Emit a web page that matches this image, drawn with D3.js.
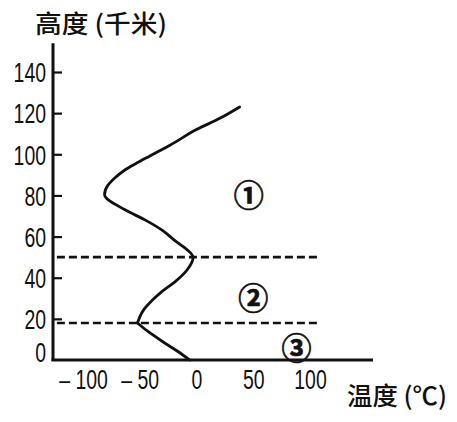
<!DOCTYPE html>
<html><head><meta charset="utf-8">
<script src="https://cdn.jsdelivr.net/npm/d3@7/dist/d3.min.js"></script>
<style>
html,body{margin:0;padding:0;background:#fff;}
svg{display:block;}
</style></head>
<body>
<svg id="chart" width="457" height="422"></svg>
<script>
// ---- data ----
const curveTemp   = [-6, -16, -30, -43, -52, -47, -39, -30, -19, -8, -3, -8, -19, -30, -45, -63, -81, -78, -72, -64, -54, -41, -23, 0, 21, 38];
const curveHeight = [0, 4, 9, 14, 18, 24, 29, 33.5, 38, 44, 50, 53.5, 58, 63, 68, 73, 80.5, 85, 88.5, 92, 95.3, 99.2, 104.5, 112, 117.6, 123];
const boundaryHeights = [50, 18];
const boundaryTempExtent = [-123, 107];
const layerLabels = ["①", "②", "③"];
const layerLabelTemp = [46, 50, 88];
const layerLabelHeight = [81, 31, 7];
const xTicks = [-100, -50, 0, 50, 100];
const yTicks = [0, 20, 40, 60, 80, 100, 120, 140];
const yTitle = "高度 (千米)";
const xTitle = "温度 (℃)";

// ---- layout ----
const svg = d3.select("#chart");
const x = d3.scaleLinear().domain([-100, 100]).range([83, 310]);
const y = d3.scaleLinear().domain([0, 140]).range([360, 72]);
const axisX = 53;        // pixel x of vertical axis
const axisTopVal = 154;  // vertical axis extends to this height
const axisRightPx = 373;
const ink = "#111";
const numFont = "'Liberation Sans', Arial, sans-serif";
const cjkFont = "'Noto Sans CJK SC', sans-serif";
const sx = 0.72;         // horizontal squeeze of the digits

// vertical axis
const yAxis = d3.axisLeft(y).tickValues(yTicks).tickSizeInner(-9).tickSizeOuter(0).tickPadding(7);
const gy = svg.append("g").attr("transform", `translate(${axisX},0)`).call(yAxis);
gy.select(".domain").remove();
gy.selectAll(".tick line").attr("stroke", ink).attr("stroke-width", 2.2);
gy.selectAll(".tick text").attr("fill", ink).attr("font-family", numFont).attr("font-size", 27)
  .attr("dy", "0.36em")
  .attr("x", -7 / sx).attr("transform", `scale(${sx},1)`);
gy.selectAll(".tick").filter(d => d === 0).select("line").remove();
gy.selectAll(".tick").filter(d => d === 0).select("text").attr("y", -8);

svg.append("line").attr("x1", axisX).attr("x2", axisX)
  .attr("y1", y(axisTopVal)).attr("y2", y(0) + 1)
  .attr("stroke", ink).attr("stroke-width", 3);

// horizontal axis
svg.append("line").attr("x1", axisX - 1.5).attr("x2", axisRightPx)
  .attr("y1", y(0)).attr("y2", y(0))
  .attr("stroke", ink).attr("stroke-width", 3);
const xAxis = d3.axisBottom(x).tickValues(xTicks).tickSize(0).tickPadding(10)
  .tickFormat(d => d < 0 ? "– " + Math.abs(d) : String(d));
const gx = svg.append("g").attr("transform", `translate(0,${y(0)})`).call(xAxis);
gx.select(".domain").remove();
gx.selectAll(".tick text").attr("fill", ink).attr("font-family", numFont).attr("font-size", 27)
  .attr("dy", "0.72em").attr("transform", `scale(${sx},1)`);

// boundary dashed lines
svg.selectAll(".bound").data(boundaryHeights).enter().append("line")
  .attr("class", "bound")
  .attr("x1", x(boundaryTempExtent[0])).attr("x2", x(boundaryTempExtent[1]))
  .attr("y1", d => y(d)).attr("y2", d => y(d))
  .attr("stroke", ink).attr("stroke-width", 2.6).attr("stroke-dasharray", "8,4");

// temperature curve: smooth in height, with the sharp turn at the lowest boundary
const pts = curveTemp.map((t, i) => [t, curveHeight[i]]);
const turn = curveHeight.indexOf(boundaryHeights[1]);
const line = d3.line().x(d => x(d[0])).y(d => y(d[1])).curve(d3.curveMonotoneY);
[pts.slice(0, turn + 1), pts.slice(turn)].forEach(seg => {
  svg.append("path").attr("d", line(seg)).attr("fill", "none")
    .attr("stroke", ink).attr("stroke-width", 2.8)
    .attr("stroke-linecap", "round").attr("stroke-linejoin", "round");
});

// layer labels
svg.selectAll(".layer").data(layerLabels).enter().append("text")
  .attr("class", "layer")
  .attr("x", (d, i) => x(layerLabelTemp[i])).attr("y", (d, i) => y(layerLabelHeight[i]))
  .attr("text-anchor", "middle").attr("dominant-baseline", "central")
  .attr("font-family", cjkFont).attr("font-size", 30).attr("font-weight", "bold")
  .attr("fill", ink).attr("stroke", ink).attr("stroke-width", 0.7).text(d => d);

// titles
svg.append("text").attr("x", 35).attr("y", 22).attr("dominant-baseline", "central")
  .attr("font-family", cjkFont).attr("font-size", 25).attr("font-weight", 500).attr("fill", ink)
  .attr("textLength", 132).attr("lengthAdjust", "spacingAndGlyphs").text(yTitle);
svg.append("text").attr("x", 347).attr("y", 394).attr("dominant-baseline", "central")
  .attr("font-family", cjkFont).attr("font-size", 25).attr("font-weight", 500).attr("fill", ink)
  .attr("textLength", 100).attr("lengthAdjust", "spacingAndGlyphs").text(xTitle);
</script>
</body></html>
